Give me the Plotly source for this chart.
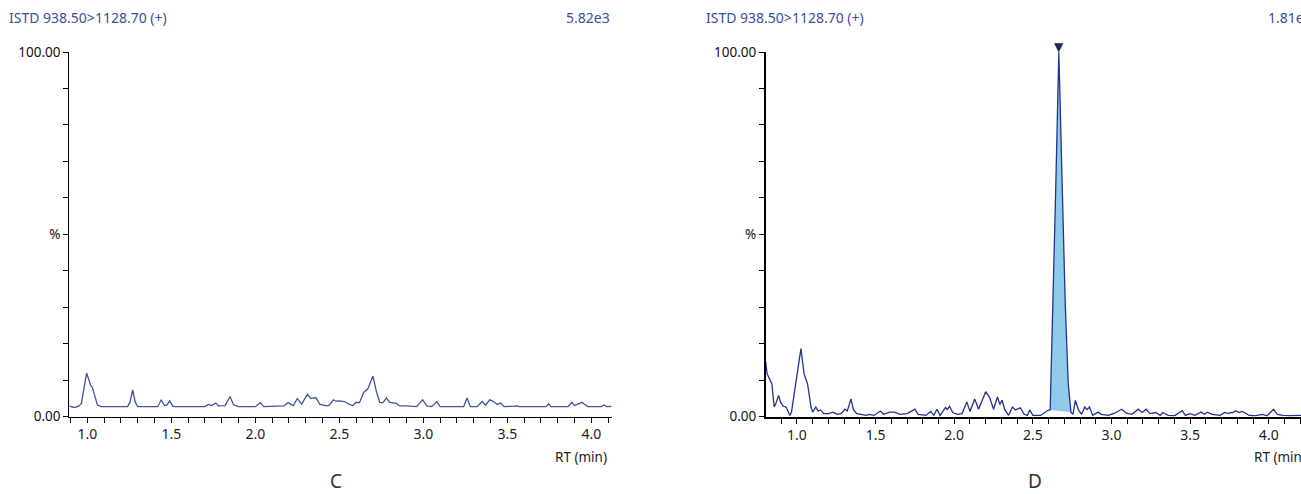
import plotly.graph_objects as go

W, H = 1301, 494

# ---------------- data (relative intensity, %) ----------------
rt_c = [0.893, 0.91, 0.93, 0.95, 0.965, 0.98, 0.996, 1.01, 1.02, 1.03, 1.045, 1.06, 1.08,
        1.24, 1.255, 1.27, 1.285, 1.30, 1.42, 1.44, 1.46, 1.475, 1.49, 1.51, 1.53,
        1.70, 1.72, 1.74, 1.765, 1.78, 1.82, 1.85, 1.87, 1.90, 2.00, 2.03, 2.05,
        2.15, 2.17, 2.195, 2.226, 2.25, 2.276, 2.31, 2.33, 2.36, 2.385, 2.425, 2.44,
        2.465, 2.48, 2.50, 2.53, 2.56, 2.58, 2.60, 2.62, 2.645, 2.67, 2.70, 2.72, 2.74,
        2.76, 2.78, 2.80, 2.84, 2.86, 2.90, 2.94, 2.96, 2.996, 3.02, 3.05, 3.08, 3.10,
        3.24, 3.26, 3.28, 3.32, 3.35, 3.37, 3.395, 3.41, 3.44, 3.46, 3.48, 3.525, 3.56,
        3.57, 3.73, 3.745, 3.76, 3.86, 3.885, 3.90, 3.945, 3.96, 3.98, 4.06, 4.075, 4.09,
        4.121]
int_c = [2.9, 2.6, 2.5, 2.9, 3.6, 8.0, 11.9, 10.0, 8.5, 8.0, 5.5, 3.2, 2.7,
         2.7, 4.0, 7.3, 4.0, 2.7, 2.7, 4.6, 3.0, 3.2, 4.3, 2.8, 2.7,
         2.7, 3.3, 3.0, 3.7, 2.9, 3.0, 5.5, 3.2, 2.7, 2.7, 3.8, 2.7,
         2.8, 2.9, 3.8, 3.0, 4.9, 3.4, 6.1, 4.9, 5.2, 3.3, 2.9, 3.1,
         4.6, 4.2, 4.3, 4.1, 3.3, 3.0, 3.9, 3.8, 6.6, 7.6, 11.1, 7.0, 3.9,
         3.8, 5.1, 3.9, 3.6, 2.9, 2.9, 2.8, 2.7, 4.6, 2.9, 2.7, 4.1, 2.7,
         2.7, 5.1, 2.7, 2.7, 4.1, 3.1, 4.6, 4.3, 3.3, 3.7, 2.7, 2.8, 2.9,
         2.7, 2.7, 3.5, 2.7, 2.7, 3.9, 3.0, 3.9, 3.3, 2.7, 2.7, 3.2, 2.7,
         2.8]

rt_d = [0.801, 0.81, 0.84, 0.855, 0.865, 0.883, 0.895, 0.913, 0.93, 0.955, 0.965, 0.987,
        1.005, 1.025, 1.045, 1.067, 1.089, 1.10, 1.12, 1.135, 1.15, 1.17, 1.20, 1.23,
        1.255, 1.28, 1.305, 1.32, 1.343, 1.36, 1.38, 1.41, 1.44, 1.46, 1.49, 1.53, 1.55,
        1.59, 1.62, 1.655, 1.70, 1.75, 1.77, 1.82, 1.85, 1.87, 1.89, 1.91, 1.945, 1.955,
        1.97, 1.99, 2.02, 2.05, 2.08, 2.10, 2.13, 2.155, 2.20, 2.225, 2.25, 2.275, 2.29,
        2.305, 2.32, 2.345, 2.37, 2.39, 2.42, 2.445, 2.465, 2.48, 2.50, 2.55, 2.58, 2.595,
        2.61, 2.625, 2.645, 2.665, 2.685, 2.705, 2.725, 2.742,
        2.755, 2.77, 2.79, 2.81, 2.83, 2.845, 2.86, 2.88, 2.915, 2.935, 2.98, 3.02, 3.065,
        3.095, 3.13, 3.17, 3.195, 3.22, 3.245, 3.28, 3.31, 3.325, 3.36, 3.40, 3.45, 3.47,
        3.50, 3.53, 3.57, 3.59, 3.61, 3.64, 3.69, 3.72, 3.745, 3.76, 3.77, 3.79, 3.81,
        3.83, 3.855, 3.875, 3.91, 3.96, 3.99, 4.03, 4.055, 4.09, 4.13, 4.21]
int_d = [15.0, 11.7, 9.0, 2.6, 3.5, 5.8, 4.0, 2.8, 2.6, 0.3, 1.2, 7.4,
         11.7, 18.6, 11.7, 9.0, 2.6, 1.2, 2.6, 1.5, 1.8, 0.8, 0.8, 1.2,
         0.6, 0.8, 2.0, 1.5, 4.8, 1.8, 0.8, 0.6, 0.3, 0.6, 0.3, 1.5, 0.6,
         1.2, 1.2, 0.6, 0.8, 2.0, 0.6, 0.3, 1.4, 0.3, 2.0, 0.3, 2.5, 1.9,
         2.8, 1.1, 0.6, 0.8, 4.0, 1.4, 4.8, 2.0, 6.8, 5.2, 2.0, 5.4, 3.3,
         4.5, 2.0, 0.3, 2.6, 1.8, 2.4, 0.6, 0.3, 1.8, 0.3, 0.3, 1.1, 1.7,
         1.8, 25.0, 62.0, 100.0, 64.0, 32.0, 9.0, 1.2,
         0.6, 4.4, 1.8, 0.6, 2.6, 1.9, 2.6, 0.3, 1.2, 0.6, 0.3, 0.9, 2.0,
         0.9, 0.6, 2.0, 1.1, 2.0, 0.8, 1.1, 0.3, 1.1, 0.3, 0.2, 1.6, 0.3,
         0.8, 0.3, 1.2, 0.6, 1.2, 0.6, 0.3, 1.1, 0.8, 1.1, 1.0, 1.6, 1.1,
         1.4, 0.9, 0.3, 0.2, 0.6, 0.2, 2.0, 0.6, 0.3, 0.2, 0.3]

peak_start, peak_end = 2.61, 2.742   # integrated peak limits (min)

header_text = "ISTD 938.50>1128.70 (+)"
intensity_c = "5.82e3"
intensity_d = "1.81e4"
panel_labels = ["C", "D"]
x_title = "RT (min)"
y_ticktext = ["0.00", "", "", "", "", "%", "", "", "", "", "100.00"]
y_tickvals = [0, 10, 20, 30, 40, 50, 60, 70, 80, 90, 100]

# ---------------- layout geometry ----------------
def px(x):
    return x / W

def py(y):
    return (H - y) / H

FONT = "Noto Sans"
LINE_C = "#3f54a2"
LINE_D = "#22338c"
TXT_BLUE = "#3a4d9c"

fig = go.Figure()

fig.add_trace(go.Scatter(x=rt_c, y=int_c, mode="lines",
                         line=dict(color=LINE_C, width=1.3),
                         xaxis="x", yaxis="y", showlegend=False, hoverinfo="skip"))

# peak fill (baseline drawn straight between integration limits)
pk_x = [r for r in rt_d if peak_start <= r <= peak_end]
pk_y = [v for r, v in zip(rt_d, int_d) if peak_start <= r <= peak_end]
fig.add_trace(go.Scatter(x=pk_x, y=pk_y, mode="lines", fill="toself",
                         fillcolor="#8fcbe8", line=dict(width=0, color="#8fcbe8"),
                         xaxis="x2", yaxis="y2", showlegend=False, hoverinfo="skip"))

fig.add_trace(go.Scatter(x=rt_d, y=int_d, mode="lines",
                         line=dict(color=LINE_D, width=1.3),
                         xaxis="x2", yaxis="y2", showlegend=False, hoverinfo="skip"))

imax = max(range(len(int_d)), key=lambda i: int_d[i])

ydom = [py(416.5), py(52)]

def xaxis(dom, rng, lw):
    return dict(domain=dom, range=rng, showline=True, linecolor="black", linewidth=lw,
                ticks="outside", ticklen=5, tickcolor="black", tickwidth=1,
                tick0=0, dtick=0.5, tickformat=".1f", automargin=False,
                minor=dict(dtick=0.1, ticks="outside", ticklen=5, tickcolor="black", tickwidth=1),
                showgrid=False, zeroline=False,
                tickfont=dict(family=FONT, size=14, color="#222222"))

def yaxis(anchor, lw):
    return dict(domain=ydom, range=[0, 100], anchor=anchor, showline=True,
                linecolor="black", linewidth=lw, automargin=False,
                ticks="outside", ticklen=5, tickcolor="black", tickwidth=1,
                tickvals=y_tickvals, ticktext=y_ticktext,
                showgrid=False, zeroline=False,
                tickfont=dict(family=FONT, size=13.5, color="#111111"))

fig.update_layout(
    width=W, height=H, autosize=False,
    margin=dict(l=0, r=0, t=0, b=0, pad=0),
    paper_bgcolor="white", plot_bgcolor="white",
    xaxis=dict(xaxis([px(69.3), px(611.7)], [0.893, 4.121], 1.2), anchor="y"),
    yaxis=yaxis("x", 1.2),
    xaxis2=dict(xaxis([px(765.7), 1.0], [0.801, 4.205], 2), anchor="y2"),
    yaxis2=yaxis("x2", 1.5),
)

ann = []
def text(x, y, s, size, color, xanchor="left"):
    ann.append(dict(x=px(x), y=py(y), xref="paper", yref="paper", text=s, showarrow=False,
                    xanchor=xanchor, yanchor="middle",
                    font=dict(family=FONT, size=size, color=color)))

text(7, 17, header_text, 14, TXT_BLUE)
text(612, 17, intensity_c, 14, TXT_BLUE, "right")
text(704, 17, header_text, 14, TXT_BLUE)
text(1266, 17, intensity_d, 14, TXT_BLUE, "left")
text(609, 457, x_title, 13.5, "#222222", "right")
text(1252, 457, x_title, 13.5, "#222222", "left")
text(336, 481, panel_labels[0], 19, "#333333", "center")
text(1035, 481, panel_labels[1], 19, "#333333", "center")

# apex marker of the integrated peak
ann.append(dict(x=rt_d[imax], y=int_d[imax], xref="x2", yref="y2", text="▼",
                showarrow=False, xanchor="center", yanchor="bottom", yshift=-4,
                font=dict(family="DejaVu Sans", size=12, color="#1b2a5e")))
fig.update_layout(annotations=ann)

fig.write_html("out.html")
